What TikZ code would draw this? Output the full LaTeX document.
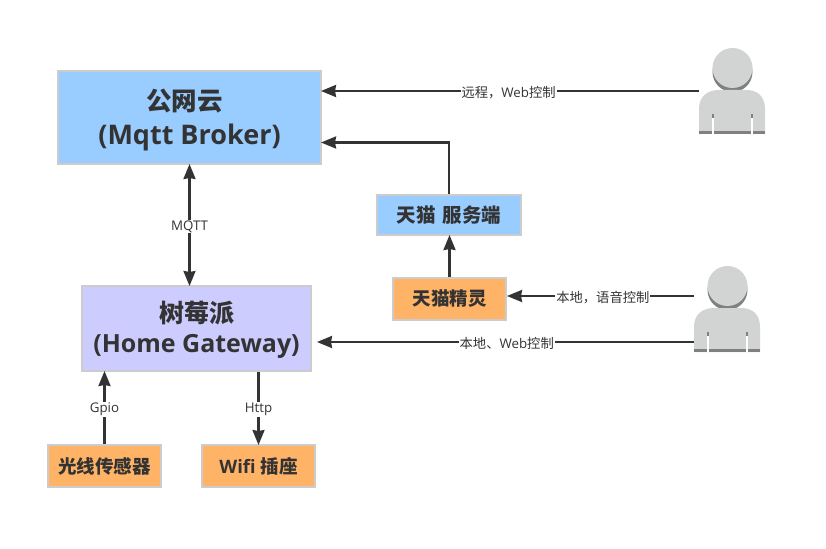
\documentclass[tikz,border=0pt]{standalone}
\usepackage{fontspec}
\usetikzlibrary{arrows.meta,calc}
\setmainfont{Open Sans}
\newfontfamily\cjk{Noto Sans CJK SC}
\definecolor{ink}{HTML}{333333}
\definecolor{edgegray}{HTML}{CCCCCC}
\definecolor{skyfill}{HTML}{99CCFF}
\definecolor{lilacfill}{HTML}{CCCCFF}
\definecolor{orangefill}{HTML}{FFB366}
\definecolor{personfill}{HTML}{D2D3D3}
\definecolor{personshade}{HTML}{808080}
\newcommand{\sline}[2]{\smash{\raisebox{#1}{#2}}}
\tikzset{
  box/.style={draw=edgegray,line width=2pt,text=ink,align=center,inner sep=0pt,font=\bfseries},
  bigbox/.style={box},
  smallbox/.style={box,font=\fontsize{18.5}{22}\selectfont\bfseries},
  conn/.style={draw=ink,line width=2.2pt,shorten >=-1pt,-{Stealth[length=15pt,width=12pt,inset=1pt]}},
  biconn/.style={conn,shorten <=-1pt,{Stealth[length=15pt,width=12pt,inset=1pt]}-{Stealth[length=15pt,width=12pt,inset=1pt]}},
  edgelabel/.style={fill=white,text=ink,inner xsep=1pt,inner ysep=1pt,yshift=-1.5pt,font=\fontsize{13.3}{15}\selectfont},
  nudge/.style={xshift=-0.6pt}
}
\newcommand{\drawperson}[2]{%
  \begin{scope}[shift={(#1,#2)}]
    \fill[personshade] (-0.5,-23) circle[radius=20];
    \fill[personfill] (-0.5,-27) circle[radius=20];
    \fill[personfill] (-34,39) -- (-34,14) .. controls (-34,0) and (-24,-5) .. (-14,-5)
      -- (13,-5) .. controls (23,-5) and (32,0) .. (32,14) -- (32,39) -- cycle;
    \fill[personshade] (-34,36) rectangle (32,39);
    \fill[personshade] (-21,19) rectangle (-19,23);
    \fill[personshade] (18,19) rectangle (20,23);
    \fill[white] (-21,23) rectangle (-19.5,39);
    \fill[white] (18,23) rectangle (19.5,39);
  \end{scope}}
\begin{document}
\begin{tikzpicture}[x=1pt,y=-1pt]
\useasboundingbox[fill=white] (0,0) rectangle (826,548);

\node[bigbox,fill=skyfill,minimum width=263pt,minimum height=93pt,
  font=\fontsize{27}{32}\selectfont\bfseries] (cloud) at (189.5,117.5)
  {\sline{-9pt}{\fontsize{25.5}{32}\selectfont\cjk 公网云\hspace{10pt}}\\\sline{-11.5pt}{(Mqtt Broker)}};
\node[bigbox,fill=lilacfill,minimum width=229pt,minimum height=85pt,
  font=\fontsize{25}{30}\selectfont\bfseries] (pi) at (196.5,328.5)
  {\sline{-8.5pt}{\cjk 树莓派}\\\sline{-8.5pt}{(Home Gateway)}};
\node[smallbox,fill=orangefill,minimum width=113pt,minimum height=42pt] (light) at (104.5,466)
  {\cjk 光线传感器};
\node[smallbox,fill=orangefill,minimum width=113pt,minimum height=42pt] (wifi) at (258.5,466)
  {Wifi {\cjk 插座}};
\node[smallbox,fill=skyfill,minimum width=144pt,minimum height=40pt,
  font=\fontsize{19.5}{22}\selectfont\bfseries] (server) at (449,215)
  {\cjk 天猫\hspace{7pt}服务端};
\node[smallbox,fill=orangefill,minimum width=113pt,minimum height=42pt] (genie) at (449.5,299)
  {\cjk 天猫精灵};

\drawperson{733}{95}
\drawperson{728}{313}

\coordinate (remote) at (699,91);
\coordinate (voice) at (694,296);
\coordinate (web) at (694,342);

\draw[conn] (remote) -- node[edgelabel,pos=0.505] {{\cjk 远程，}Web{\cjk 控制}} (remote -| cloud.east);
\draw[conn] (server.north) |- ($(cloud.east)+(0,25)$);
\draw[biconn,nudge] (cloud.south) -- node[edgelabel,pos=0.5] {MQTT} (cloud.south |- pi.north);
\draw[conn,nudge] (genie.north) -- (genie.north |- server.south);
\draw[conn] (voice) -- node[edgelabel,pos=0.49] {{\cjk 本地，语音控制}} ($(voice -| genie.east)+(1,0)$);
\draw[conn] (web) -- node[edgelabel,pos=0.498] {{\cjk 本地、}Web{\cjk 控制}} ($(web -| pi.east)+(6,0)$);
\draw[conn,nudge] (light.north) -- node[edgelabel,pos=0.5] {Gpio} (light.north |- pi.south);
\draw[conn,nudge] (wifi.north |- pi.south) -- node[edgelabel,pos=0.5] {Http} (wifi.north);
\end{tikzpicture}
\end{document}
